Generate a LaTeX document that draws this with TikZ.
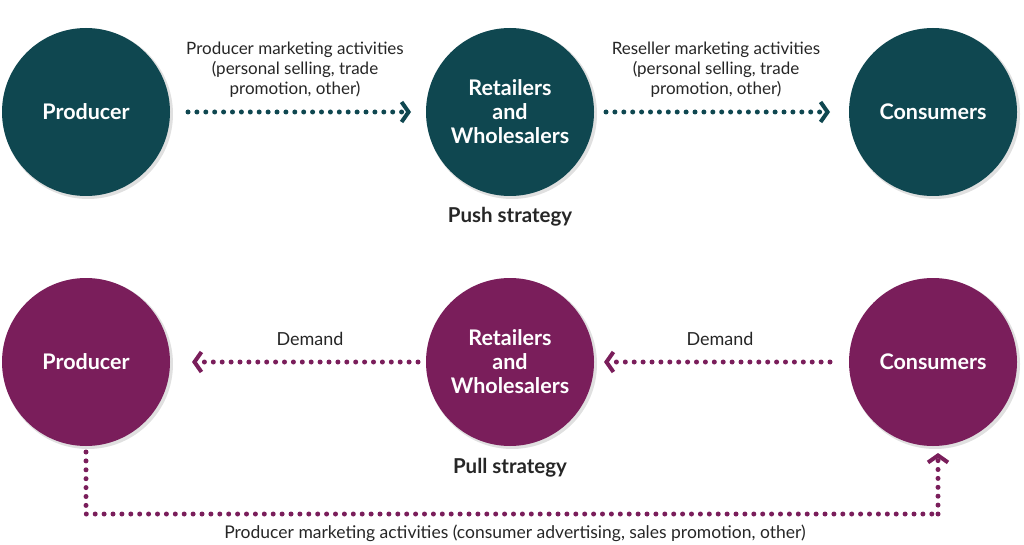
\documentclass[tikz,border=0pt]{standalone}
\usepackage{fontspec}
\setmainfont{Lato}
\usetikzlibrary{arrows.meta}
\definecolor{tealc}{HTML}{0F4750}
\definecolor{purpc}{HTML}{7A1E5B}
\tikzset{
  circ/.style={circle, minimum size=168pt, inner sep=0pt, text=white, font=\fontsize{21.5}{24}\selectfont\bfseries, align=center},
  shade/.style={circle, minimum size=170pt, inner sep=0pt, fill=black!12},
  dotarrow/.style={line width=5pt, dash pattern=on 0pt off 8.9pt, line cap=round, -{Straight Barb[length=7pt,width=20pt,line width=4pt]}},
  lbl/.style={font=\fontsize{17}{20}\selectfont, align=center, text=black!85},
  strat/.style={font=\fontsize{20.5}{24}\selectfont\bfseries, text=black!85}
}
\begin{document}
\begin{tikzpicture}[x=1pt,y=-1pt]
\useasboundingbox (0,0) rectangle (1024,545);
% shadows
\foreach \x in {86,510,933}{
  \node[shade] at (\x+2,114) {};
  \node[shade] at (\x+2,364) {};
}
% push row
\node[circ, fill=tealc] (p1) at (86,112) {Producer};
\node[circ, fill=tealc] (r1) at (510,112) {Retailers\\and\\Wholesalers};
\node[circ, fill=tealc] (c1) at (933,112) {Consumers};
\node[strat] (push) at (510,217) {Push strategy};
\coordinate (a1s) at (188,112);
\coordinate (a1e) at (411,112);
\coordinate (a2s) at (606,112);
\coordinate (a2e) at (830,112);
\draw[dotarrow, tealc] (a1s) -- (a1e);
\draw[dotarrow, tealc] (a2s) -- (a2e);
\node[lbl] (l1) at (295,70) {Producer marketing activities\\(personal selling, trade\\promotion, other)};
\node[lbl] (l2) at (716,70) {Reseller marketing activities\\(personal selling, trade\\promotion, other)};
% pull row
\node[circ, fill=purpc] (p2) at (86,362) {Producer};
\node[circ, fill=purpc] (r2) at (510,362) {Retailers\\and\\Wholesalers};
\node[circ, fill=purpc] (c2) at (933,362) {Consumers};
\node[strat] (pull) at (510,468) {Pull strategy};
\coordinate (b1s) at (418,362);
\coordinate (b1e) at (192,362);
\coordinate (b2s) at (830,362);
\coordinate (b2e) at (604,362);
\draw[dotarrow, purpc] (b1s) -- (b1e);
\draw[dotarrow, purpc] (b2s) -- (b2e);
\node[lbl, font=\fontsize{18}{20}\selectfont] (d1) at (310,339) {Demand};
\node[lbl, font=\fontsize{18}{20}\selectfont] (d2) at (720,339) {Demand};
\coordinate (q1) at (86,452);
\coordinate (q2) at (86,514);
\coordinate (q3) at (938,514);
\coordinate (q4) at (938,453);
\draw[dotarrow, purpc, -] (q1) -- (q2) -- (q3);
\draw[dotarrow, purpc] (q3) -- (q4);
\node[lbl, font=\fontsize{17.5}{20}\selectfont] (l3) at (515,533) {Producer marketing activities (consumer advertising, sales promotion, other)};
\end{tikzpicture}
\end{document}
